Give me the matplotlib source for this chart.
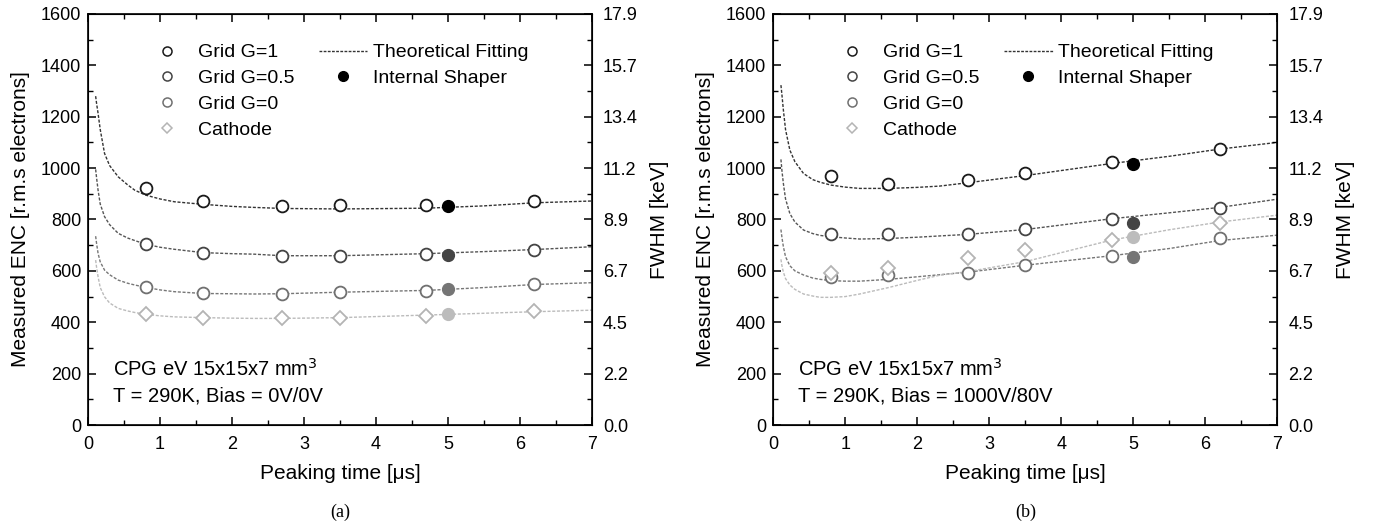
import matplotlib
matplotlib.use("Agg")
import matplotlib.pyplot as plt
from matplotlib.lines import Line2D
from matplotlib.ticker import MultipleLocator

plt.rcParams['font.family'] = ['Liberation Sans', 'DejaVu Sans']

# measured points (peaking time in us, ENC in electrons)
tau = [0.8, 1.6, 2.7, 3.5, 4.7, 6.2]
tau_int = [5.0]

enc_a = {
    "G1": [922, 872, 853, 855, 855, 872],
    "G05": [704, 669, 659, 659, 664, 681],
    "G0": [536, 512, 511, 519, 523, 547],
    "cath": [431, 416, 415, 415, 425, 442],
}
int_a = {"G1": [852], "G05": [662], "G0": [529], "cath": [434]}

enc_b = {
    "G1": [969, 940, 952, 982, 1023, 1076],
    "G05": [742, 742, 742, 763, 800, 843],
    "G0": [575, 585, 593, 623, 659, 728],
    "cath": [593, 610, 649, 682, 721, 786],
}
int_b = {"G1": [1017], "G05": [786], "G0": [654], "cath": [732]}

# theoretical fitting curves
fit_x = [0.106, 0.12, 0.14, 0.17, 0.23, 0.3, 0.42, 0.55, 0.65, 0.8, 1.0,
         1.2, 1.6, 2.0, 2.31, 2.7, 3.5, 4.7, 5.5, 6.2, 7.0]
fit_a = {
    "G1": [1280, 1250, 1213, 1150, 1057, 1010, 966, 935, 914, 895, 880,
           869, 859, 851, 847, 843, 841, 844, 853, 865, 872],
    "G05": [995, 960, 914, 860, 811, 780, 746, 728, 718, 704, 692,
            684, 671, 667, 665, 659, 659, 667, 675, 683, 694],
    "G0": [735, 705, 668, 635, 603, 585, 564, 552, 545, 536, 526,
           519, 512, 511, 510, 511, 517, 524, 535, 547, 554],
    "cath": [642, 612, 577, 535, 499, 475, 454, 444, 438, 431, 425,
             421, 418, 416, 415, 415, 418, 428, 435, 441, 447],
}
fit_b = {
    "G1": [1323, 1285, 1226, 1150, 1070, 1025, 979, 955, 945, 934, 926,
           921, 921, 925, 930, 943, 971, 1018, 1046, 1074, 1100],
    "G05": [1034, 990, 940, 880, 823, 790, 759, 745, 738, 733, 728,
            724, 726, 731, 736, 742, 761, 803, 826, 847, 879],
    "G0": [761, 730, 694, 655, 620, 600, 584, 572, 567, 562, 560,
           560, 567, 577, 585, 595, 622, 659, 687, 718, 739],
    "cath": [645, 620, 595, 570, 545, 528, 510, 502, 497, 497, 500,
             510, 535, 563, 583, 597, 636, 720, 760, 790, 817],
}

keys = ["G1", "G05", "G0", "cath"]
labels = ["Grid G=1", "Grid G=0.5", "Grid G=0", "Cathode"]
markers = ["o", "o", "o", "D"]
edge_cols = ["#1a1a1a", "#444444", "#707070", "#b4b4b4"]
fill_cols = ["#000000", "#444444", "#757575", "#bcbcbc"]
line_cols = ["#333333", "#555555", "#777777", "#bbbbbb"]

fwhm_ticks = [0, 200, 400, 600, 800, 1000, 1200, 1400, 1600]
fwhm_labels = ["0.0", "2.2", "4.5", "6.7", "8.9", "11.2", "13.4", "15.7", "17.9"]

fig = plt.figure(figsize=(13.75, 5.27), dpi=100)
ax_a = fig.add_axes([0.064, 0.1935, 0.3665, 0.780])
ax_b = fig.add_axes([0.5624, 0.1935, 0.3665, 0.780])


def draw_panel(ax, enc, enc_int, fit, bias_text, tag):
    for i, k in enumerate(keys):
        ax.plot(fit_x, fit[k], color=line_cols[i], lw=1.0,
                linestyle=(0, (2.2, 1.2)), zorder=2)
        ms = 7.0 if markers[i] == "D" else 8.5
        ax.plot(tau, enc[k], linestyle="none", marker=markers[i], ms=ms,
                mfc="white", mec=edge_cols[i], mew=1.3, zorder=3)
        ax.plot(tau_int, enc_int[k], linestyle="none", marker="o", ms=8.5,
                mfc=fill_cols[i], mec=fill_cols[i], zorder=4)

    ax.set_xlim(0, 7)
    ax.set_ylim(0, 1600)
    ax.xaxis.set_major_locator(MultipleLocator(1))
    ax.xaxis.set_minor_locator(MultipleLocator(0.5))
    ax.yaxis.set_major_locator(MultipleLocator(200))
    ax.yaxis.set_minor_locator(MultipleLocator(100))
    ax.tick_params(which="both", direction="in", top=True, labelsize=13)
    ax.tick_params(axis="x", pad=8)
    ax.tick_params(axis="y", pad=5)
    ax.tick_params(which="major", length=6, width=1.1)
    ax.tick_params(which="minor", length=3.5, width=1.0)
    for s in ax.spines.values():
        s.set_linewidth(1.2)
    ax.set_xlabel("Peaking time [μs]", fontsize=15, labelpad=8)
    ax.set_ylabel("Measured ENC [r.m.s electrons]", fontsize=15, labelpad=8)

    axr = ax.twinx()
    axr.set_ylim(0, 1600)
    axr.set_yticks(fwhm_ticks)
    axr.set_yticklabels(fwhm_labels)
    axr.yaxis.set_minor_locator(MultipleLocator(100))
    axr.tick_params(which="both", direction="in", labelsize=13, pad=8)
    axr.tick_params(which="major", length=6, width=1.1)
    axr.tick_params(which="minor", length=3.5, width=1.0)
    axr.set_ylabel("FWHM [keV]", fontsize=15, labelpad=9)

    h1 = [Line2D([], [], linestyle="none", marker=markers[i],
                 ms=(5 if markers[i] == "D" else 6.5), mfc="white",
                 mec=edge_cols[i], mew=1.1) for i in range(4)]
    leg1 = ax.legend(h1, labels, loc="upper left", bbox_to_anchor=(0.098, 0.97),
                     frameon=False, fontsize=14, handlelength=1.2,
                     handletextpad=1.0, labelspacing=0.42, borderpad=0.4)
    ax.add_artist(leg1)
    h2 = [Line2D([], [], color="#333333", lw=1.0, linestyle=(0, (2, 1))),
          Line2D([], [], linestyle="none", marker="o", ms=7, mfc="black",
                 mec="black")]
    ax.legend(h2, ["Theoretical Fitting", "Internal Shaper"], loc="upper left",
              bbox_to_anchor=(0.423, 0.97), frameon=False, fontsize=14,
              handlelength=2.5, handletextpad=0.3, labelspacing=0.42,
              borderpad=0.4)

    ax.text(0.05, 0.136, "CPG eV 15x15x7 mm$^3$", transform=ax.transAxes,
            fontsize=14.5, va="center")
    ax.text(0.05, 0.07, bias_text, transform=ax.transAxes, fontsize=14.5,
            va="center")
    ax.text(0.5, -0.212, tag, transform=ax.transAxes, ha="center", va="center",
            fontsize=13, family=["Liberation Serif", "DejaVu Serif"])


draw_panel(ax_a, enc_a, int_a, fit_a, "T = 290K, Bias = 0V/0V", "(a)")
draw_panel(ax_b, enc_b, int_b, fit_b, "T = 290K, Bias = 1000V/80V", "(b)")

fig.savefig("out.png", dpi=100)
